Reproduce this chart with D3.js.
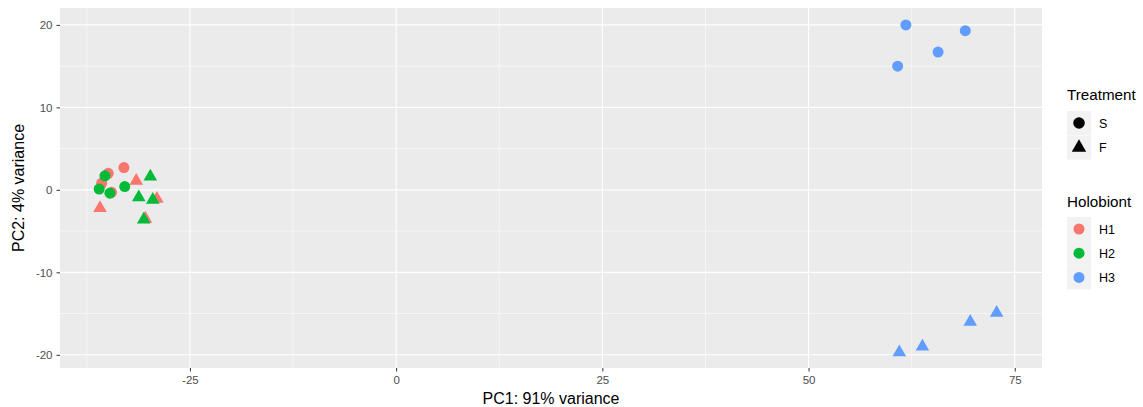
<!DOCTYPE html>
<html><head><meta charset="utf-8">
<script src="https://cdn.jsdelivr.net/npm/d3@7"></script>
<style>body{margin:0;background:#fff;font-family:"Liberation Sans",Arial,sans-serif;}</style>
</head><body>
<svg id="c" width="1143" height="407"></svg>
<script>
// Data
const holobiont = ["H1","H1","H1","H1","H1","H1","H1","H1",
                   "H2","H2","H2","H2","H2","H2","H2","H2",
                   "H3","H3","H3","H3","H3","H3","H3","H3"];
const treatment = ["S","S","S","S","F","F","F","F",
                   "S","S","S","S","F","F","F","F",
                   "S","S","S","S","F","F","F","F"];
const pc1 = [-34.9,-33.0,-35.7,-34.5, -31.5,-35.9,-29.0,-30.4,
             -35.3,-36.0,-34.7,-32.9, -29.8,-31.2,-29.5,-30.6,
             61.8,69.0,65.7,60.8, 61.0,63.8,69.6,72.8];
const pc2 = [2.0,2.7,0.8,-0.3, 1.1,-2.2,-1.1,-3.5,
             1.7,0.1,-0.4,0.4, 1.6,-0.9,-1.2,-3.6,
             20.0,19.3,16.7,15.0, -19.7,-19.0,-16.0,-14.9];
const xTicks = [-25,0,25,50,75];
const yTicks = [-20,-10,0,10,20];
const xMinor = [-37.5,-12.5,12.5,37.5,62.5];
const yMinor = [-15,-5,5,15];
const holoLevels = ["H1","H2","H3"];
const holoColors = ["#F8766D","#00BA38","#619CFF"];
const treatLevels = ["S","F"];

const svg = d3.select("#c");
const L=60, R=1042, T=8, B=368;
const x = d3.scaleLinear().domain([-40.75,78.3]).range([L,R]);
const y = d3.scaleLinear().domain([-21.6,22.05]).range([B,T]);
const col = d3.scaleOrdinal().domain(holoLevels).range(holoColors);
const shp = d3.scaleOrdinal().domain(treatLevels).range([d3.symbolCircle,d3.symbolTriangle]);
const sz = {S:95, F:80};

svg.append("rect").attr("x",L).attr("y",T).attr("width",R-L).attr("height",B-T).attr("fill","#EBEBEB");
const g = svg.append("g");
xMinor.forEach(v=>g.append("line").attr("x1",x(v)).attr("x2",x(v)).attr("y1",T).attr("y2",B).attr("stroke","#fff").attr("stroke-width",0.55));
yMinor.forEach(v=>g.append("line").attr("y1",y(v)).attr("y2",y(v)).attr("x1",L).attr("x2",R).attr("stroke","#fff").attr("stroke-width",0.55));
xTicks.forEach(v=>g.append("line").attr("x1",x(v)).attr("x2",x(v)).attr("y1",T).attr("y2",B).attr("stroke","#fff").attr("stroke-width",1.1));
yTicks.forEach(v=>g.append("line").attr("y1",y(v)).attr("y2",y(v)).attr("x1",L).attr("x2",R).attr("stroke","#fff").attr("stroke-width",1.1));

// axes
const xa = svg.append("g").attr("transform",`translate(0,${B})`)
  .call(d3.axisBottom(x).tickValues(xTicks).tickSize(3.5).tickPadding(4).tickFormat(d=>d));
const ya = svg.append("g").attr("transform",`translate(${L},0)`)
  .call(d3.axisLeft(y).tickValues(yTicks).tickSize(3.5).tickPadding(4).tickFormat(d=>d));
[xa,ya].forEach(a=>{
  a.select(".domain").remove();
  a.selectAll(".tick line").attr("stroke","#333").attr("stroke-width",1);
  a.selectAll(".tick text").attr("fill","#4D4D4D").style("font-size","11.5px").style("font-family","Liberation Sans, Arial, sans-serif");
});

// points
const idx = d3.range(pc1.length);
svg.append("g").selectAll("path").data(idx).join("path")
  .attr("transform",i=>`translate(${x(pc1[i])},${y(pc2[i])})`)
  .attr("d",i=>d3.symbol().type(shp(treatment[i])).size(sz[treatment[i]])())
  .attr("fill",i=>col(holobiont[i]));

// axis titles
svg.append("text").attr("x",(L+R)/2).attr("y",404).attr("text-anchor","middle")
  .style("font-size","16px").attr("fill","#000").text("PC1: 91% variance");
svg.append("text").attr("transform",`translate(24,${(T+B)/2}) rotate(-90)`).attr("text-anchor","middle")
  .style("font-size","16px").attr("fill","#000").text("PC2: 4% variance");

// legends
const lx = 1067, kw = 24;
svg.append("text").attr("x",lx).attr("y",100).style("font-size","15.2px").text("Treatment");
treatLevels.forEach((t,i)=>{
  const cy = 123 + i*24.5;
  svg.append("rect").attr("x",lx).attr("y",cy-12).attr("width",kw).attr("height",24).attr("fill","#F2F2F2");
  svg.append("path").attr("transform",`translate(${lx+12},${cy})`)
    .attr("d",d3.symbol().type(shp(t)).size(sz[t]+10)()).attr("fill","#000");
  svg.append("text").attr("x",1099).attr("y",cy+4.5).style("font-size","12.5px").attr("fill","#000").text(t);
});
svg.append("text").attr("x",lx).attr("y",207).style("font-size","15.2px").text("Holobiont");
holoLevels.forEach((h,i)=>{
  const cy = 229 + i*24.2;
  svg.append("rect").attr("x",lx).attr("y",cy-12).attr("width",kw).attr("height",24).attr("fill","#F2F2F2");
  svg.append("path").attr("transform",`translate(${lx+12},${cy})`)
    .attr("d",d3.symbol().type(d3.symbolCircle).size(95)()).attr("fill",col(h));
  svg.append("text").attr("x",1099).attr("y",cy+4.5).style("font-size","12.5px").attr("fill","#000").text(h);
});
</script>
</body></html>
